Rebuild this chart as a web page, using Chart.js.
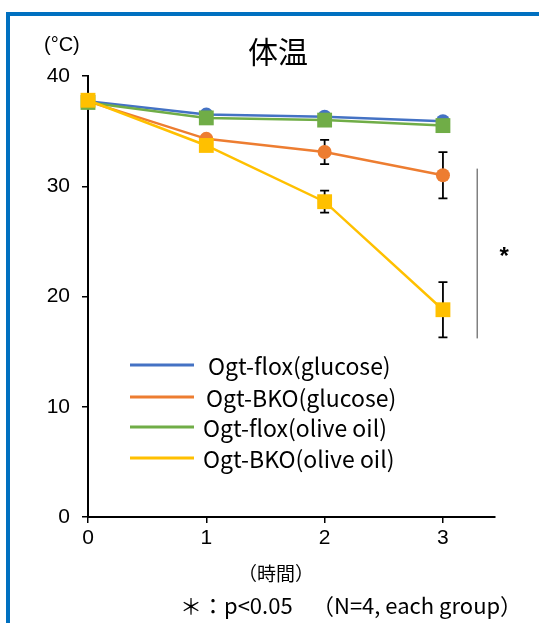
<!DOCTYPE html>
<html>
<head>
<meta charset="utf-8">
<script src="https://cdn.jsdelivr.net/npm/chart.js@4.4.1/dist/chart.umd.min.js"></script>
<style>
  html, body { margin: 0; padding: 0; background: #fff; }
  .wrap { position: relative; width: 539px; height: 623px; overflow: hidden; }
  .frame { position: absolute; left: 6px; top: 12px; right: -10px; bottom: -10px;
           border-top: 4px solid #0070C0; border-left: 4px solid #0070C0; }
  canvas { position: absolute; left: 0; top: 0; }
</style>
</head>
<body>
<div class="wrap">
  <div class="frame"></div>
  <canvas id="chart" width="539" height="623"></canvas>
</div>
<script>
// hours after start
const hours = [0, 1, 2, 3];

// body temperature (°C)
const floxGlucose = [37.7, 36.5, 36.3, 35.9];
const bkoGlucose = [37.7, 34.3, 33.1, 31.0];
const floxOlive = [37.6, 36.2, 36.0, 35.5];
const bkoOlive = [37.8, 33.7, 28.6, 18.8];

// error bars (only visible for the BKO groups)
const bkoGlucoseErr = [0, 0, 1.1, 2.1];
const bkoOliveErr = [0, 0, 1.0, 2.5];

const seriesLabels = ['Ogt-flox(glucose)', 'Ogt-BKO(glucose)', 'Ogt-flox(olive oil)', 'Ogt-BKO(olive oil)'];
const seriesColors = ['#4472C4', '#ED7D31', '#70AD47', '#FFC000'];

const yTickValues = [0, 10, 20, 30, 40];

// significance bracket between BKO groups at 3 h
const sigX = 3.29;
const sigRange = [16.2, 31.6];

const toPoints = vals => hours.map((h, i) => ({ x: h, y: vals[i] }));

const makeSet = (idx, vals, style, order) => ({
  label: seriesLabels[idx],
  data: toPoints(vals),
  borderColor: seriesColors[idx],
  backgroundColor: seriesColors[idx],
  borderWidth: 2.5,
  pointStyle: style,
  pointRadius: style === 'rect' ? 10.5 : 7,
  pointBorderWidth: 0,
  pointHoverRadius: style === 'rect' ? 10.5 : 7,
  tension: 0,
  clip: false,
  order: order
});

const jpFont = '"Noto Sans CJK JP", "Noto Sans", sans-serif';
const numFont = '"Liberation Sans", Arial, sans-serif';

// error bars drawn under the markers
const errorBars = {
  id: 'errorBars',
  beforeDatasetsDraw(chart) {
    const { ctx, scales: { x, y } } = chart;
    const sets = [[bkoGlucose, bkoGlucoseErr], [bkoOlive, bkoOliveErr]];
    ctx.save();
    ctx.strokeStyle = '#000';
    ctx.lineWidth = 1.8;
    sets.forEach(([vals, errs]) => {
      hours.forEach((h, i) => {
        if (!errs[i]) return;
        const px = x.getPixelForValue(h);
        const top = y.getPixelForValue(vals[i] + errs[i]);
        const bot = y.getPixelForValue(vals[i] - errs[i]);
        ctx.beginPath();
        ctx.moveTo(px, top); ctx.lineTo(px, bot);
        ctx.moveTo(px - 4.5, top); ctx.lineTo(px + 4.5, top);
        ctx.moveTo(px - 4.5, bot); ctx.lineTo(px + 4.5, bot);
        ctx.stroke();
      });
    });
    ctx.restore();
  }
};

// titles, unit labels, legend, significance mark
const decorations = {
  id: 'decorations',
  afterDraw(chart) {
    const { ctx, scales: { x, y } } = chart;
    ctx.save();
    ctx.fillStyle = '#000';
    ctx.textBaseline = 'middle';

    ctx.font = '30px ' + jpFont;
    ctx.textAlign = 'center';
    ctx.fillText('体温', 278, 52);

    ctx.font = '20px ' + numFont;
    ctx.textAlign = 'left';
    ctx.fillText('(°C)', 44, 45);

    ctx.font = '19px ' + jpFont;
    ctx.textAlign = 'center';
    ctx.fillText('（時間）', 276, 574);

    ctx.textAlign = 'left';
    ctx.font = '22px ' + jpFont;
    ctx.fillText('＊：p<0.05', 180, 606);
    ctx.fillText('（N=4, each group）', 312, 606);

    // significance bracket
    const sx = x.getPixelForValue(sigX);
    ctx.strokeStyle = '#808080';
    ctx.lineWidth = 1.5;
    ctx.beginPath();
    ctx.moveTo(sx, y.getPixelForValue(sigRange[1]));
    ctx.lineTo(sx, y.getPixelForValue(sigRange[0]));
    ctx.stroke();
    ctx.font = 'bold 24px ' + numFont;
    ctx.textAlign = 'center';
    ctx.fillText('*', sx + 27, y.getPixelForValue((sigRange[0] + sigRange[1]) / 2) + 4);

    // legend inside the plot
    const rows = [365, 397, 427, 458];
    const textX = [208, 206, 203, 203];
    ctx.font = '23px ' + jpFont;
    ctx.textAlign = 'left';
    ctx.lineWidth = 3;
    seriesLabels.forEach((lab, i) => {
      ctx.strokeStyle = seriesColors[i];
      ctx.beginPath();
      ctx.moveTo(130, rows[i]);
      ctx.lineTo(194, rows[i]);
      ctx.stroke();
      ctx.fillText(lab, textX[i], rows[i] + 1);
    });
    ctx.restore();
  }
};

new Chart(document.getElementById('chart'), {
  type: 'line',
  data: {
    datasets: [
      makeSet(0, floxGlucose, 'circle', 4),
      makeSet(1, bkoGlucose, 'circle', 3),
      makeSet(2, floxOlive, 'rect', 2),
      makeSet(3, bkoOlive, 'rect', 1)
    ]
  },
  options: {
    responsive: false,
    animation: false,
    devicePixelRatio: 1,
    layout: { padding: { top: 76, right: 44, left: 0, bottom: 0 } },
    plugins: {
      legend: { display: false },
      title: { display: false },
      tooltip: { enabled: false }
    },
    scales: {
      x: {
        type: 'linear',
        min: 0,
        max: 3.44,
        afterFit: scale => { scale.height = 106; },
        afterBuildTicks: scale => {
          scale.ticks = hours.map(v => ({ value: v }));
        },
        ticks: {
          color: '#000',
          padding: 3,
          font: { family: numFont, size: 21 }
        },
        grid: { drawOnChartArea: false, drawTicks: true, tickLength: 6, color: '#000', lineWidth: 1.5 },
        border: { display: true, color: '#000', width: 2 }
      },
      y: {
        min: 0,
        max: 40,
        afterFit: scale => { scale.width = 88; },
        afterBuildTicks: scale => {
          scale.ticks = yTickValues.map(v => ({ value: v }));
        },
        ticks: {
          color: '#000',
          padding: 12,
          font: { family: numFont, size: 21 }
        },
        grid: { drawOnChartArea: false, drawTicks: true, tickLength: 6, color: '#000', lineWidth: 1.5 },
        border: { display: true, color: '#000', width: 2 }
      }
    }
  },
  plugins: [errorBars, decorations]
});
</script>
</body>
</html>
